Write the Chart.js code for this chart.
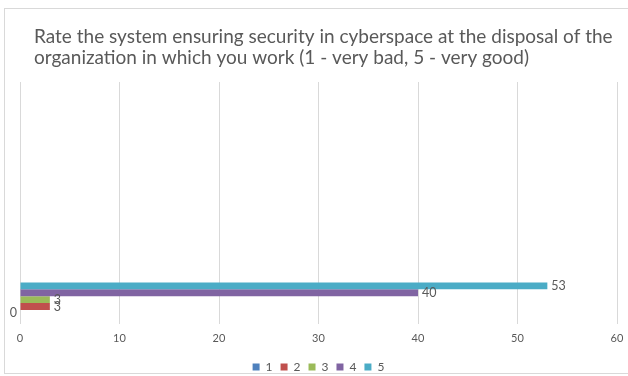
<!DOCTYPE html>
<html>
<head>
<meta charset="utf-8">
<script src="https://cdn.jsdelivr.net/npm/chart.js@4/dist/chart.umd.min.js"></script>
<style>
  html, body { margin: 0; padding: 0; background: #ffffff; }
  #wrap { position: relative; width: 628px; height: 376px; overflow: hidden; }
  #frame { position: absolute; left: 4px; top: 8px; width: 640px; height: 366px; border: 1px solid #d9d9d9; box-sizing: border-box; }
  #c { position: absolute; left: 0; top: 0; }
</style>
</head>
<body>
<div id="wrap">
  <div id="frame"></div>
  <canvas id="c" width="628" height="385"></canvas>
</div>
<script>
// Survey answers: rating of the organisation's cybersecurity system
const titleLines = [
  'Rate the system ensuring security in cyberspace at the disposal of the',
  'organization in which you work (1 - very bad, 5 - very good)'
];
const categories = ['', '', '', '', ''];   // answers sit in the bottom row
const ratingLabels = ['1', '2', '3', '4', '5'];
const ratingCounts = [0, 3, 3, 40, 53];
const ratingColors = ['#4F81BD', '#C0504D', '#9BBB59', '#8064A2', '#4BACC6'];
const xTicks = [0, 10, 20, 30, 40, 50, 60];

const textColor = '#595959';
const fontFamily = 'Lato, "Open Sans", sans-serif';

// Highest rating first so that rating 1 ends up at the bottom of the group
const datasets = ratingLabels.map((lab, i) => ({
  label: lab,
  data: categories.map((_, k) => (k === categories.length - 1 ? ratingCounts[i] : null)),
  backgroundColor: ratingColors[i],
  borderWidth: 0,
  categoryPercentage: 0.71,
  barPercentage: 1.0
})).reverse();

// Title written at the top left of the frame
const titlePlugin = {
  id: 'leftTitle',
  afterDraw(chart) {
    const ctx = chart.ctx;
    ctx.save();
    ctx.fillStyle = textColor;
    ctx.font = '19px ' + fontFamily;
    ctx.textAlign = 'left';
    ctx.textBaseline = 'alphabetic';
    ctx.fillText(titleLines[0], 34, 43);
    ctx.fillText(titleLines[1], 34, 64);
    ctx.restore();
  }
};

// Value labels just past the end of each bar
const valueLabels = {
  id: 'valueLabels',
  afterDatasetsDraw(chart) {
    const ctx = chart.ctx;
    ctx.save();
    ctx.fillStyle = textColor;
    ctx.font = '12.5px ' + fontFamily;
    ctx.textBaseline = 'middle';
    chart.data.datasets.forEach((ds, i) => {
      const meta = chart.getDatasetMeta(i);
      meta.data.forEach((bar, k) => {
        const v = ds.data[k];
        if (v === null || v === undefined) return;
        if (v === 0) {
          ctx.textAlign = 'right';
          ctx.fillText(String(v), bar.x - 3, bar.y);
        } else {
          ctx.textAlign = 'left';
          ctx.fillText(String(v), bar.x + 4, bar.y);
        }
      });
    });
    ctx.restore();
  }
};

new Chart(document.getElementById('c'), {
  type: 'bar',
  data: { labels: categories, datasets },
  options: {
    indexAxis: 'y',
    responsive: false,
    animation: false,
    layout: { padding: { top: 82, left: 20, right: 11, bottom: 2 } },
    scales: {
      x: {
        min: xTicks[0],
        max: xTicks[xTicks.length - 1],
        afterBuildTicks(axis) { axis.ticks = xTicks.map(v => ({ value: v })); },
        afterFit(axis) { axis.paddingLeft = 0; axis.paddingRight = 0; },
        grid: { color: '#d9d9d9', lineWidth: 1, drawTicks: false },
        border: { display: false },
        ticks: { color: textColor, font: { family: fontFamily, size: 11 }, padding: 8 }
      },
      y: {
        display: false
      }
    },
    plugins: {
      legend: {
        position: 'bottom',
        reverse: true,
        labels: {
          color: textColor,
          font: { family: fontFamily, size: 12 },
          boxWidth: 7,
          boxHeight: 7,
          padding: 8
        }
      },
      title: { display: false },
      tooltip: { enabled: false }
    }
  },
  plugins: [titlePlugin, valueLabels]
});
</script>
</body>
</html>
